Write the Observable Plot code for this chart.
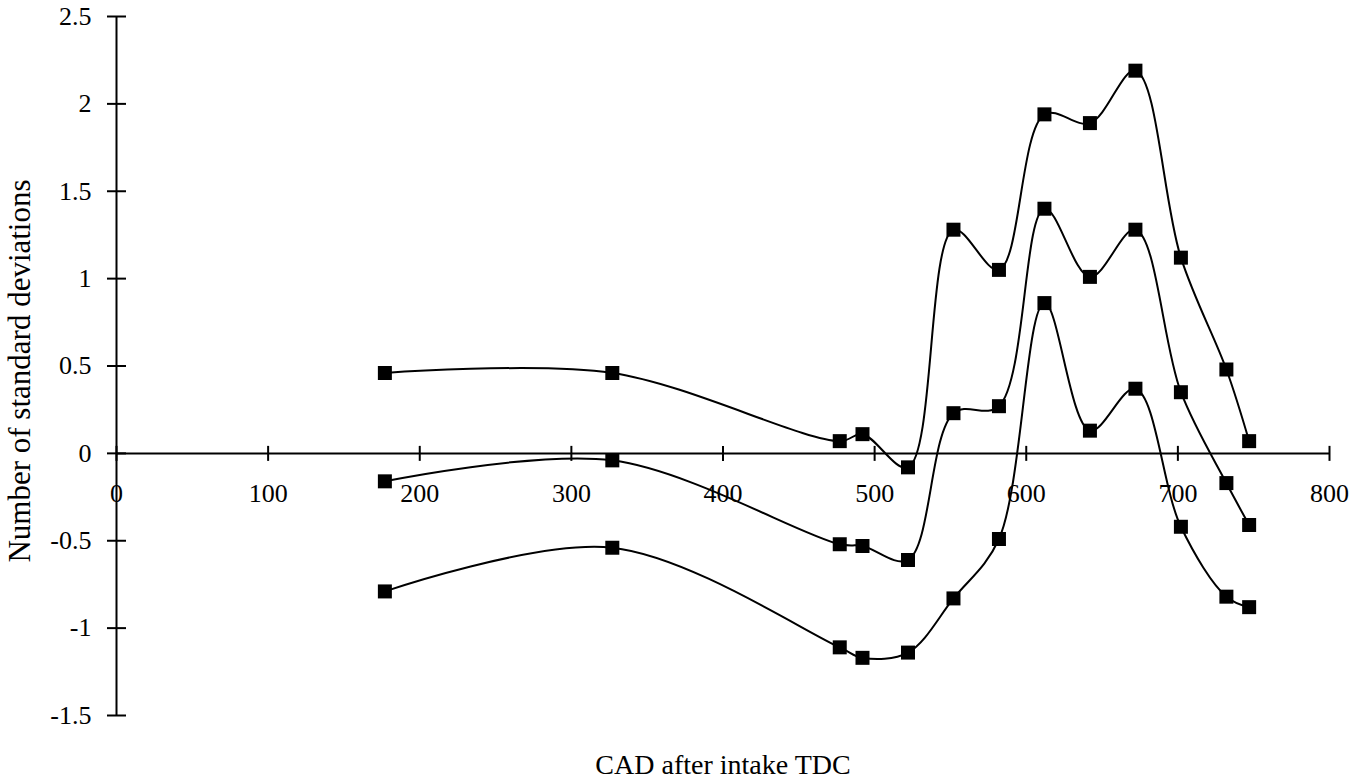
<!DOCTYPE html>
<html>
<head>
<meta charset="utf-8">
<script src="https://cdn.jsdelivr.net/npm/d3@7"></script>
<script src="https://cdn.jsdelivr.net/npm/@observablehq/plot@0.6"></script>
<style>
  html, body { margin: 0; padding: 0; background: #ffffff; }
  #chart svg { display: block; }
</style>
</head>
<body>
<div id="chart"></div>
<script>
// Crank angle (degrees after intake TDC) of each measurement
const cad = [177, 327, 477, 492, 522, 552, 582, 612, 642, 672, 702, 732, 747];

// Deviation, in standard deviations, for the three traces
const upperSeries  = [0.46, 0.46, 0.07, 0.11, -0.08, 1.28, 1.05, 1.94, 1.89, 2.19, 1.12, 0.48, 0.07];
const middleSeries = [-0.16, -0.04, -0.52, -0.53, -0.61, 0.23, 0.27, 1.40, 1.01, 1.28, 0.35, -0.17, -0.41];
const lowerSeries  = [-0.79, -0.54, -1.11, -1.17, -1.14, -0.83, -0.49, 0.86, 0.13, 0.37, -0.42, -0.82, -0.88];

// Axis ticks
const xTicks = [0, 100, 200, 300, 400, 500, 600, 700, 800];
const yTicks = [2.5, 2, 1.5, 1, 0.5, 0, -0.5, -1, -1.5];

const seriesList = [
  {name: "upper", values: upperSeries},
  {name: "middle", values: middleSeries},
  {name: "lower", values: lowerSeries}
];
const rows = seriesList.flatMap(s => cad.map((c, i) => ({series: s.name, cad: c, value: s.values[i]})));

// Tick-mark symbols that straddle the axis lines
const vTick = {draw(ctx, size) { const h = Math.sqrt(size / Math.PI); ctx.moveTo(0, -h); ctx.lineTo(0, h); }};
const hTick = {draw(ctx, size) { const h = Math.sqrt(size / Math.PI); ctx.moveTo(-h, 0); ctx.lineTo(h, 0); }};

const chart = Plot.plot({
  width: 1361,
  height: 781,
  marginLeft: 116,
  marginRight: 32,
  marginTop: 16,
  marginBottom: 66,
  x: {domain: [0, 800], axis: null},
  y: {domain: [-1.5, 2.5], axis: null},
  style: {fontFamily: "'Liberation Serif', 'Times New Roman', serif", fontSize: "26px", color: "#000", background: "#fff"},
  marks: [
    // axis lines
    Plot.ruleX([0], {stroke: "#000", strokeWidth: 2}),
    Plot.ruleY([0], {stroke: "#000", strokeWidth: 2}),
    // tick marks
    Plot.dot(xTicks, {x: d => d, y: 0, symbol: vTick, r: 7.5, stroke: "#000", strokeWidth: 2, fill: "none"}),
    Plot.dot(yTicks, {x: 0, y: d => d, symbol: hTick, r: 9.5, stroke: "#000", strokeWidth: 2, fill: "none"}),
    // tick labels
    Plot.text(xTicks, {x: d => d, y: 0, dy: 40, text: d => String(d), fontSize: 26, fill: "#000"}),
    Plot.text(yTicks, {x: 0, y: d => d, dx: -25, textAnchor: "end", text: d => String(d), fontSize: 26, fill: "#000"}),
    // axis titles
    Plot.text(["Number of standard deviations"], {frameAnchor: "left", textAnchor: "middle", lineAnchor: "middle", rotate: -90, dx: -96, dy: 5, fontSize: 31, fill: "#000"}),
    Plot.text(["CAD after intake TDC"], {frameAnchor: "bottom", textAnchor: "middle", lineAnchor: "middle", dy: 50, fontSize: 28, fill: "#000"}),
    // smoothed traces with square markers
    Plot.line(rows, {x: "cad", y: "value", z: "series", curve: "catmull-rom", stroke: "#000", strokeWidth: 2}),
    Plot.dot(rows, {x: "cad", y: "value", symbol: "square", r: 7.9, fill: "#000", stroke: "none"})
  ]
});

document.getElementById("chart").appendChild(chart);
</script>
</body>
</html>
